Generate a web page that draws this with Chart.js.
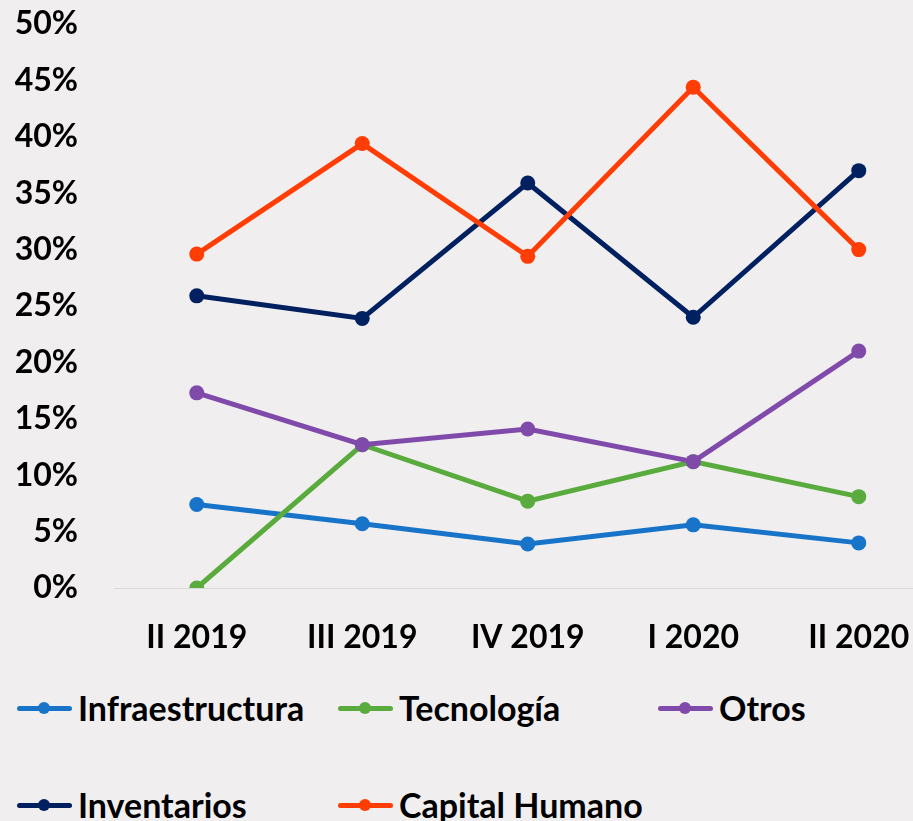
<!DOCTYPE html>
<html>
<head>
<meta charset="utf-8">
<script src="https://cdn.jsdelivr.net/npm/chart.js@4"></script>
<style>
  html, body { margin: 0; padding: 0; background: #f0eeef; overflow: hidden; width: 913px; height: 821px; }
  #wrap { position: absolute; left: 0; top: 0; width: 949px; height: 660px; }
  .leg { position: absolute; font-family: Lato, "Noto Sans", sans-serif; font-weight: 700; font-size: 34px; color: #000; white-space: nowrap; line-height: 1; }
  .leg .sw { position: absolute; left: 0; top: 50%; width: 55px; height: 5px; margin-top: -2.5px; border-radius: 3px; }
  .leg .dot { position: absolute; left: 21px; top: 50%; width: 12px; height: 12px; margin-top: -6px; border-radius: 50%; }
  .leg .tx { position: absolute; left: 61px; top: 50%; transform: translateY(-50%); }
</style>
</head>
<body>
<div id="wrap"><canvas id="c" width="949" height="660"></canvas></div>
<div id="legend"></div>
<script>
const categories = ["II 2019", "III 2019", "IV 2019", "I 2020", "II 2020"];
const seriesNames = ["Infraestructura", "Tecnología", "Otros", "Inventarios", "Capital Humano"];
const infraestructura = [7.4, 5.7, 3.9, 5.6, 4.0];
const tecnologia = [0.0, 12.7, 7.7, 11.2, 8.1];
const otros = [17.3, 12.7, 14.1, 11.2, 21.0];
const inventarios = [25.9, 23.9, 35.9, 24.0, 37.0];
const capitalHumano = [29.6, 39.4, 29.4, 44.4, 30.0];
const yTicks = [0, 5, 10, 15, 20, 25, 30, 35, 40, 45, 50];
const colors = ["#1874c9", "#5aab3d", "#7f4aa9", "#002060", "#ff3d05"];
const values = [infraestructura, tecnologia, otros, inventarios, capitalHumano];

const FONT = { family: "Lato, 'Noto Sans', sans-serif", weight: "bold", size: 32 };

const datasets = seriesNames.map((n, i) => ({
  label: n,
  data: values[i],
  borderColor: colors[i],
  backgroundColor: colors[i],
  pointBackgroundColor: colors[i],
  pointBorderWidth: 0,
  pointRadius: 7.5,
  borderWidth: 5,
  tension: 0,
  fill: false,
  order: seriesNames.length - i
}));

new Chart(document.getElementById("c"), {
  type: "line",
  data: { labels: categories, datasets },
  options: {
    responsive: false,
    animation: false,
    devicePixelRatio: 1,
    layout: { padding: { top: 24, left: 0, right: 0, bottom: 0 } },
    plugins: { legend: { display: false }, tooltip: { enabled: false } },
    scales: {
      x: {
        offset: true,
        grid: { display: false, drawTicks: false },
        border: { display: true, color: "#d9d9d9", width: 1 },
        ticks: { color: "#000", font: FONT, padding: 30, maxRotation: 0, autoSkip: false },
        afterFit: s => { s.height = 72; s.paddingLeft = 0; s.paddingRight = 0; }
      },
      y: {
        min: 0, max: 50,
        afterBuildTicks: s => { s.ticks = yTicks.map(v => ({ value: v })); },
        grid: { display: false, drawTicks: false },
        border: { display: false },
        ticks: { color: "#000", font: FONT, padding: 36, callback: v => v + "%" },
        afterFit: s => { s.width = 114; s.paddingTop = 0; s.paddingBottom = 0; }
      }
    }
  }
});

// legend
const legendPos = [
  { x: 17, y: 708 }, { x: 338, y: 708 }, { x: 658, y: 708 },
  { x: 17, y: 805 }, { x: 338, y: 805 }
];
const lg = document.getElementById("legend");
seriesNames.forEach((n, i) => {
  const d = document.createElement("div");
  d.className = "leg";
  d.style.left = legendPos[i].x + "px";
  d.style.top = (legendPos[i].y - 20) + "px";
  d.style.height = "40px";
  d.style.width = "300px";
  d.innerHTML = '<div class="sw" style="background:' + colors[i] + '"></div><div class="dot" style="background:' + colors[i] + '"></div><div class="tx"></div>';
  d.querySelector(".tx").textContent = n;
  lg.appendChild(d);
});
</script>
</body>
</html>
